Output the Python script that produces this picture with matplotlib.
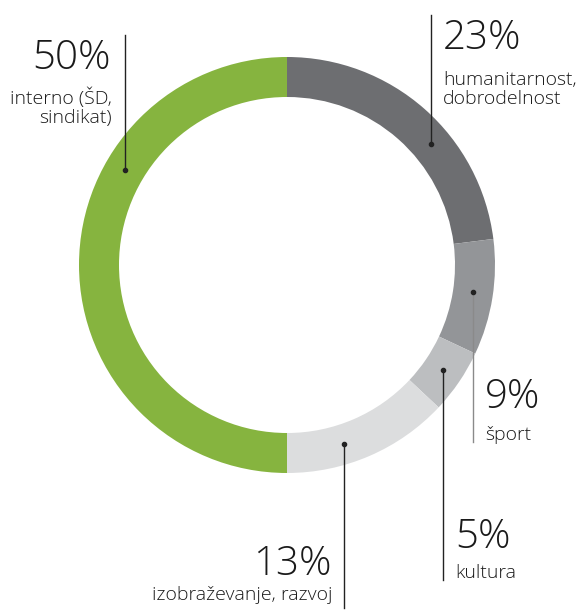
import matplotlib
matplotlib.use("Agg")
import matplotlib.pyplot as plt
import numpy as np

# data
shares = [23, 9, 5, 13, 50]
names = ["humanitarnost,\ndobrodelnost", "šport", "kultura",
         "izobraževanje, razvoj", "interno (ŠD,\nsindikat)"]
colors = ["#6d6e71", "#939598", "#bcbec0", "#dcddde", "#86b43f"]

W, H = 582, 612
cx, cy = 287, 265          # pixel centre of the ring
r_out, ring = 208, 40
r_mid = r_out - ring / 2

fig = plt.figure(figsize=(W / 100, H / 100), dpi=100)
ax = fig.add_axes([0, 0, 1, 1])

def Y(py):
    return H - py

ax.pie(shares, colors=colors, radius=r_out, center=(cx, Y(cy)),
       startangle=90, counterclock=False,
       wedgeprops=dict(width=ring, edgecolor="none"))

font = "Open Sans"
big = dict(fontsize=29, fontfamily=font, fontweight="light", color="#1a1a1a")
small = dict(fontsize=14, fontfamily=font, fontweight="light", color="#1a1a1a",
             linespacing=1.05)

# (line x, line top, line bottom, dot side, pct baseline, last-line baseline, align, line colour)
callouts = [
    (431, 15, None, -1, (443, 49), (443, 104), "left", "#222222"),
    (473, None, 442, 1, (485, 408), (485, 440), "left", "#8a8a8a"),
    (443, None, 580, 1, (455, 548), (455, 578), "left", "#222222"),
    (344, None, 608, 1, (332, 575), (333, 600), "right", "#222222"),
    (125, 35, None, -1, (111, 69), (112, 123), "right", "#222222"),
]

for (lx, top, bot, side, ppos, lpos, ha, lc), val, name in zip(callouts, shares, names):
    dy = np.sqrt(r_mid ** 2 - (lx - cx) ** 2)
    dot_y = cy + side * dy
    if top is not None:
        ax.plot([lx, lx], [Y(top), Y(dot_y)], color=lc, lw=1)
    else:
        ax.plot([lx, lx], [Y(dot_y), Y(bot)], color=lc, lw=1)
    ax.plot(lx, Y(dot_y), "o", ms=3, color="#222222")
    ax.text(ppos[0], Y(ppos[1]), f"{val}%", ha=ha, va="baseline", **big)
    ax.text(lpos[0], Y(lpos[1]), name, ha=ha, va="baseline",
            multialignment=ha, **small)

ax.set_xlim(0, W)
ax.set_ylim(0, H)
ax.set_aspect("equal")
ax.axis("off")

fig.savefig("out.png", dpi=100)
